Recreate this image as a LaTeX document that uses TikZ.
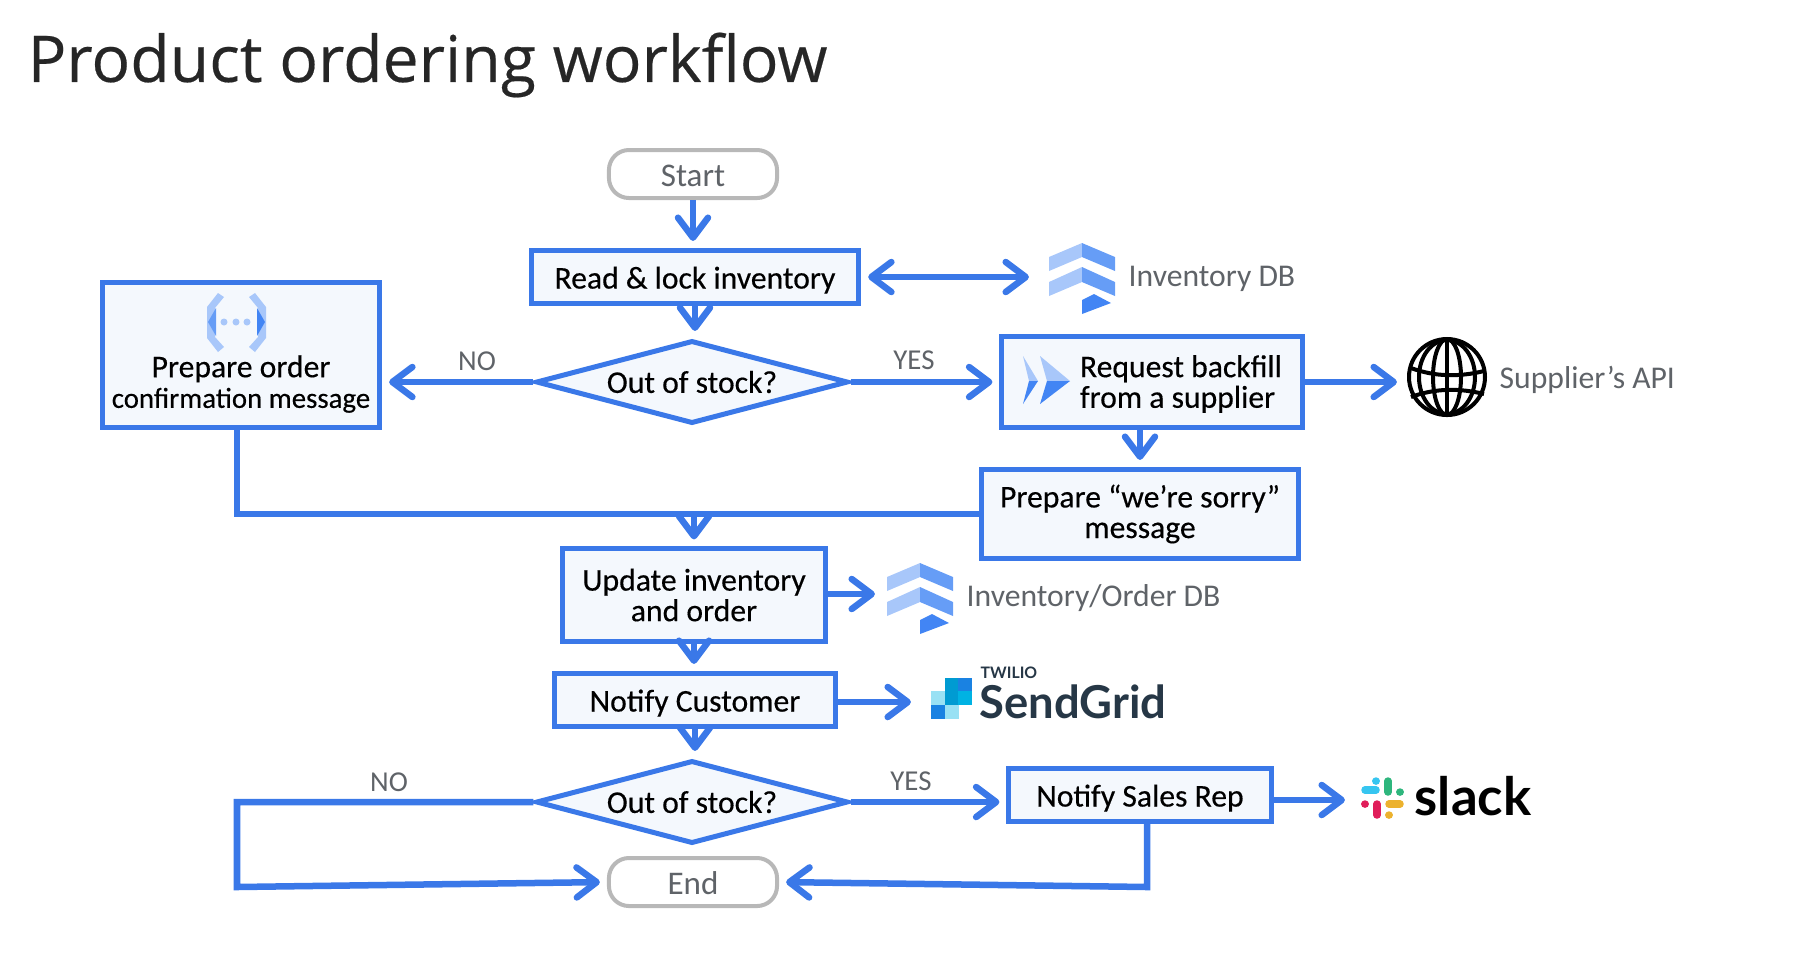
\documentclass[tikz,border=0pt]{standalone}
\usepackage{fontspec}
\setmainfont{Carlito}
\newfontfamily\titlefont[FakeBold=0.3]{Open Sans}
\newfontfamily\handfont[FakeBold=0.35]{Carlito}
\newfontfamily\logofont{Lato}
\usetikzlibrary{arrows.meta,positioning,shapes.geometric}
\definecolor{flowblue}{RGB}{58,120,232}
\definecolor{boxfill}{RGB}{244,248,253}
\definecolor{endgray}{RGB}{184,184,184}
\definecolor{notegray}{RGB}{95,99,104}
\definecolor{iconlight}{RGB}{168,199,250}
\definecolor{iconmid}{RGB}{102,157,246}
\definecolor{icondark}{RGB}{66,133,244}
\definecolor{gridblue}{RGB}{26,130,226}
\definecolor{gridcyan}{RGB}{0,178,227}
\definecolor{gridteal}{RGB}{0,155,210}
\definecolor{gridpale}{RGB}{153,225,244}
\definecolor{gridnavy}{RGB}{38,55,70}
\tikzset{
    plainbox/.style={draw=flowblue, fill=boxfill, line width=0.05cm, inner sep=0pt, align=center, font=\handfont\fontsize{9}{8.7}\selectfont},
    stepbox/.style={plainbox, execute at begin node={\rule{0pt}{8pt}}},
    askbox/.style={plainbox, diamond, aspect=3.7},
    endbox/.style={draw=endgray, fill=white, rounded corners=0.2cm, line width=0.04cm, inner sep=0pt, minimum width=1.68cm, minimum height=0.48cm, text=notegray, font=\fontsize{9.4}{10}\selectfont, execute at begin node={\rule{0pt}{7.2pt}}},
    flow/.style={->, flowblue, line width=0.065cm, shorten >=2pt},
    joinline/.style={flowblue, line width=0.065cm},
    note/.style={text=notegray, font=\fontsize{8.2}{9.2}\selectfont},
    sidenote/.style={anchor=west, inner sep=0pt, text=notegray, font=\fontsize{9}{10}\selectfont}
}
% database icon, used twice
\newcommand{\storeicon}[1]{
\begin{scope}[shift={#1}]
    \fill[iconlight] (-33,14) -- (0,0) -- (0,14) -- (-33,28) -- cycle;
    \fill[iconmid] (33,14) -- (0,0) -- (0,14) -- (33,28) -- cycle;
    \fill[iconlight] (-33,39) -- (0,24) -- (0,39) -- (-33,53) -- cycle;
    \fill[iconmid] (33,39) -- (0,24) -- (0,39) -- (33,53) -- cycle;
    \fill[icondark] (0,57) -- (12,51) -- (29,60) -- (0,71) -- cycle;
\end{scope}
}

\begin{document}
\begin{tikzpicture}[>={Straight Barb[round,length=2mm,width=3mm]}, x=0.01cm, y=-0.01cm]
\useasboundingbox (0,0) rectangle (1811,959);

\node[anchor=west, inner sep=0pt, text=black!85, font=\titlefont\fontsize{18.3}{20}\selectfont] (title) at (27,65) {Product ordering workflow};

% ==================== MAIN COLUMN ====================

\node[endbox] (start) at (693,174) {Start};
\node[stepbox, minimum width=3.27cm, minimum height=0.53cm] (read) at (695,277) {Read \& lock inventory};
\node[askbox, minimum width=3.12cm, minimum height=0.83cm] (stock) at (692,382) {Out of stock?};
\node[stepbox, minimum width=2.62cm, minimum height=0.92cm] (update) at (694,595) {Update inventory\\and order};
\node[stepbox, minimum width=2.8cm, minimum height=0.53cm] (customer) at (695,700) {Notify Customer};
\node[askbox, minimum width=3.12cm, minimum height=0.83cm] (restock) at (692,802) {Out of stock?};
\node[endbox] (finish) at (693,882) {End};

% ==================== LEFT BRANCH ====================

\node[stepbox, minimum width=2.77cm, minimum height=1.44cm] (confirm) at (241,355) {};
\node[font=\handfont\fontsize{9}{8.7}\selectfont, align=center] (confirmtext) at (241,384) {Prepare order\\{\fontsize{8.2}{8.7}\selectfont confirmation message}};
\node[note] (nofirst) at (477,361) {NO};
\node[note] (nosecond) at (389,782) {NO};

% Bracket icon
\fill[iconlight] (218,293) -- (224,297) -- (215,308) -- (215,337) -- (224,347) -- (218,352) -- (207,338) -- (207,307) -- cycle;
\fill[iconmid] (216,308) -- (216,336) -- (208,322) -- cycle;
\fill[iconlight] (255,293) -- (249,297) -- (258,308) -- (258,337) -- (249,347) -- (255,352) -- (266,338) -- (266,307) -- cycle;
\fill[icondark] (257,308) -- (257,336) -- (265,322) -- cycle;
\foreach \dotx in {224,236,247}
    \fill[iconlight] (\dotx,322) circle[radius=3.5];

% ==================== RIGHT BRANCH ====================

\node[stepbox, minimum width=3cm, minimum height=0.9cm] (backfill) at (1152,382) {};
\node[font=\handfont\fontsize{9}{8.7}\selectfont, align=left] (backfilltext) at (1181,384) {Request backfill\\from a supplier};
\node[stepbox, minimum width=3.16cm, minimum height=0.89cm] (sorry) at (1140,514) {Prepare “we’re sorry”\\message};
\node[stepbox, minimum width=2.62cm, minimum height=0.53cm] (sales) at (1140,795) {Notify Sales Rep};
\node[note] (yesfirst) at (914,360) {YES};
\node[note] (yessecond) at (911,781) {YES};
\node[sidenote] (invdb) at (1128,279) {Inventory DB};
\node[sidenote] (supplier) at (1499,380) {Supplier’s API};
\node[sidenote] (orderdb) at (966,598) {Inventory/Order DB};

% Chevron icon
\fill[iconlight] (1023,356) -- (1038,381) -- (1029,381) -- cycle;
\fill[icondark] (1029,381) -- (1038,381) -- (1023,404) -- cycle;
\fill[iconlight] (1040,356) -- (1070,381) -- (1047,381) -- cycle;
\fill[icondark] (1047,381) -- (1070,381) -- (1040,404) -- cycle;

% Database icons
\storeicon{(1082,243)}
\storeicon{(920,563)}

% Globe
\begin{scope}[black, line width=0.04cm]
    \draw (1447,377) ellipse[x radius=38, y radius=38];
    \draw (1447,377) ellipse[x radius=14, y radius=38];
    \draw (1447,377) ellipse[x radius=28, y radius=37];
    \draw (1447,340) -- (1447,414);
    \draw (1411,368) .. controls (1435,377) and (1460,377) .. (1484,371);
    \draw (1411,397) .. controls (1435,388) and (1460,388) .. (1484,394);
\end{scope}

% SendGrid logo
\foreach \cellx/\celly/\cellcol in {945/678/gridteal, 958/678/gridblue, 931/691/gridpale, 945/691/gridteal, 958/691/gridcyan, 931/705/gridblue, 945/705/gridpale}
    \fill[\cellcol] (\cellx,\celly) rectangle ++(14,14);
\node[anchor=west, inner sep=0pt, text=gridnavy, font=\logofont\bfseries\fontsize{12.9}{14}\selectfont] (sendgrid) at (979,702) {SendGrid};
\node[anchor=west, inner sep=0pt, text=gridnavy, font=\logofont\bfseries\fontsize{4.5}{5}\selectfont] (twilio) at (980,673) {TWILIO};

% Slack logo
\begin{scope}[line width=0.075cm, line cap=round]
    \draw[color={rgb,255:red,54;green,197;blue,240}] (1365,790) -- (1376,790);
    \draw[color={rgb,255:red,54;green,197;blue,240}] (1376,781) -- (1376,781.1);
    \draw[color={rgb,255:red,46;green,182;blue,125}] (1388,781) -- (1388,792);
    \draw[color={rgb,255:red,46;green,182;blue,125}] (1400,792) -- (1400,792.1);
    \draw[color={rgb,255:red,236;green,178;blue,46}] (1389,804) -- (1400,804);
    \draw[color={rgb,255:red,236;green,178;blue,46}] (1389,815) -- (1389,815.1);
    \draw[color={rgb,255:red,224;green,30;blue,90}] (1377,804) -- (1377,815);
    \draw[color={rgb,255:red,224;green,30;blue,90}] (1365,804) -- (1365,804.1);
\end{scope}
\node[anchor=west, inner sep=0pt, text=black, font=\logofont\bfseries\fontsize{15}{16}\selectfont] (slack) at (1414,796) {slack};

% ==================== CONNECTORS ====================

\coordinate (invend) at (1036,277);
\coordinate (worldend) at (1404,382);
\coordinate (merge) at (694,512);
\coordinate (orderend) at (882,594);
\coordinate (mailend) at (918,702);
\coordinate (chatend) at (1352,800);
\coordinate (confirmfoot) at (237,429);
\coordinate (leftturn) at (237,887);
\coordinate (salesfoot) at (1147,823);
\coordinate (rightturn) at (1147,887);

\draw[flow] (start) -- (start |- read.north);
\draw[flow] (read) -- (read |- stock.north);
\draw[flow, <->, shorten <=2pt] (read.east) -- (invend);
\draw[flow] (stock.west) -- (stock.west -| confirm.east);
\draw[flow] (stock.east) -- (stock.east -| backfill.west);
\draw[flow] (backfill.east) -- (worldend);
\draw[flow] (backfill.south -| sorry.north) -- (sorry.north);
\draw[joinline] (confirmfoot) |- (sorry.west);
\draw[flow] (merge) -- (update);
\draw[flow] (update) -- (update |- customer.north);
\draw[flow] (update.east |- orderend) -- (orderend);
\draw[flow] (customer.east |- mailend) -- (mailend);
\draw[flow] (customer) -- (customer |- restock.north);
\draw[flow] (restock.east) -- (restock.east -| sales.west);
\draw[flow] (sales.east |- chatend) -- (chatend);
\draw[flow] (restock.west) -| (leftturn) -- (finish.west);
\draw[flow] (salesfoot) -- (rightturn) -- (finish.east);

\end{tikzpicture}
\end{document}
